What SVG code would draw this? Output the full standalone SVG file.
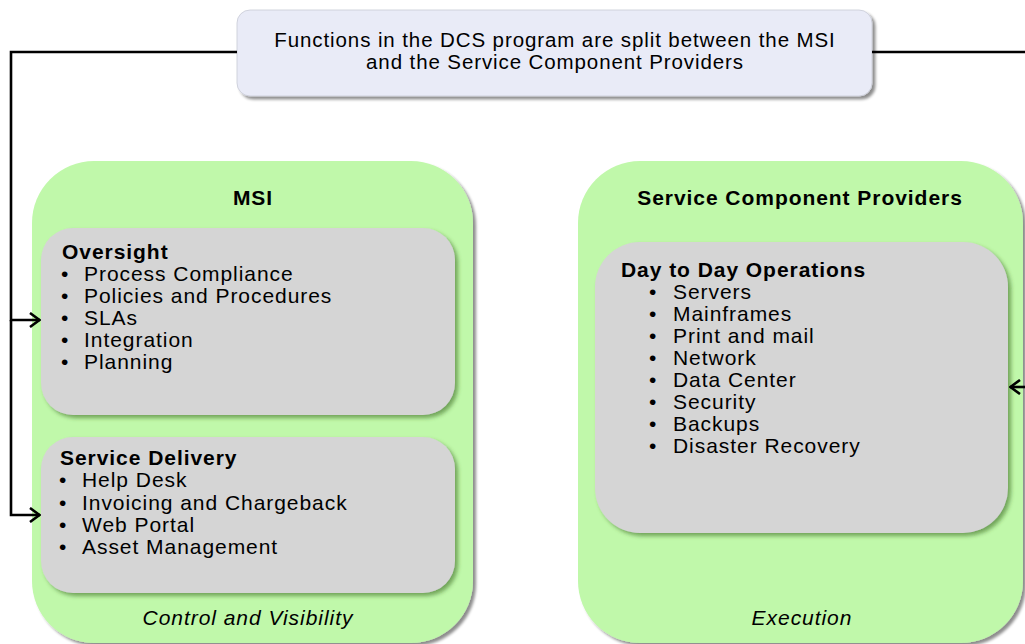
<svg xmlns="http://www.w3.org/2000/svg" width="1025" height="644" viewBox="0 0 1025 644">
<style>
  text { font-family: "Liberation Sans", Arial, sans-serif; fill: #000; font-size: 21px; letter-spacing: 0.95px; }
  .title { font-weight: bold; }
  .foot { font-style: italic; }
  .note { font-size: 20.5px; letter-spacing: 0.9px; }
  .b { letter-spacing: 0; }
  .outer { fill: #c0f8aa; }
  .inner { fill: #d5d5d5; }
  .conn { fill: none; stroke: #000; stroke-width: 2.6; }
</style>
<defs>
  <filter id="sh" x="-10%" y="-10%" width="125%" height="125%">
    <feGaussianBlur in="SourceAlpha" stdDeviation="1.8"/>
    <feOffset dx="3" dy="3" result="b"/>
    <feComponentTransfer><feFuncA type="linear" slope="0.45"/></feComponentTransfer>
    <feMerge><feMergeNode/><feMergeNode in="SourceGraphic"/></feMerge>
  </filter>
  <filter id="shg" x="-10%" y="-10%" width="125%" height="125%">
    <feFlood flood-color="#3a6a20" result="c"/>
    <feComposite in="c" in2="SourceAlpha" operator="in" result="s"/>
    <feGaussianBlur in="s" stdDeviation="2"/>
    <feOffset dx="3" dy="3" result="b"/>
    <feComponentTransfer><feFuncA type="linear" slope="0.6"/></feComponentTransfer>
    <feMerge><feMergeNode/><feMergeNode in="SourceGraphic"/></feMerge>
  </filter>
  <marker id="arr" viewBox="0 0 12 16" refX="11" refY="8" markerWidth="12" markerHeight="16" markerUnits="userSpaceOnUse" orient="auto">
    <path d="M1,1 L10.5,8 L1,15" fill="none" stroke="#000" stroke-width="2.6"/>
  </marker>
</defs>

<g id="note">
  <rect x="237" y="10" width="635" height="86" rx="13" fill="#e9ebf7" stroke="#c8cad6" stroke-width="0.8" filter="url(#sh)"/>
  <text class="note" x="555" y="47" text-anchor="middle">Functions in the DCS program are split between the MSI</text>
  <text class="note" x="555" y="69" text-anchor="middle">and the Service Component Providers</text>
</g>

<g id="msi">
  <rect class="outer" x="32" y="161" width="441" height="482" rx="62" filter="url(#sh)"/>
  <text class="title" x="253" y="205" text-anchor="middle">MSI</text>
  <text class="foot" x="248" y="625" text-anchor="middle">Control and Visibility</text>
</g>

<g id="oversight">
  <rect class="inner" x="41" y="228" width="414" height="187" rx="32" filter="url(#shg)"/>
  <text class="title" x="62" y="259">Oversight</text>
  <text class="b" x="61" y="281">•</text><text x="84" y="281">Process Compliance</text>
  <text class="b" x="61" y="303">•</text><text x="84" y="303">Policies and Procedures</text>
  <text class="b" x="61" y="325">•</text><text x="84" y="325">SLAs</text>
  <text class="b" x="61" y="347">•</text><text x="84" y="347">Integration</text>
  <text class="b" x="61" y="369">•</text><text x="84" y="369">Planning</text>
</g>

<g id="service-delivery">
  <rect class="inner" x="41" y="437" width="414" height="156" rx="32" filter="url(#shg)"/>
  <text class="title" x="60" y="465">Service Delivery</text>
  <text class="b" x="59" y="487">•</text><text x="82" y="487">Help Desk</text>
  <text class="b" x="59" y="510">•</text><text x="82" y="510">Invoicing and Chargeback</text>
  <text class="b" x="59" y="532">•</text><text x="82" y="532">Web Portal</text>
  <text class="b" x="59" y="554">•</text><text x="82" y="554">Asset Management</text>
</g>

<g id="scp">
  <rect class="outer" x="578" y="161" width="445" height="482" rx="62" filter="url(#sh)"/>
  <text class="title" x="800" y="205" text-anchor="middle">Service Component Providers</text>
  <text class="foot" x="802" y="625" text-anchor="middle">Execution</text>
</g>

<g id="day-to-day">
  <rect class="inner" x="595" y="242" width="413" height="291" rx="45" filter="url(#shg)"/>
  <text class="title" x="621" y="277">Day to Day Operations</text>
  <text class="b" x="649" y="299">•</text><text x="673" y="299">Servers</text>
  <text class="b" x="649" y="321">•</text><text x="673" y="321">Mainframes</text>
  <text class="b" x="649" y="343">•</text><text x="673" y="343">Print and mail</text>
  <text class="b" x="649" y="365">•</text><text x="673" y="365">Network</text>
  <text class="b" x="649" y="387">•</text><text x="673" y="387">Data Center</text>
  <text class="b" x="649" y="409">•</text><text x="673" y="409">Security</text>
  <text class="b" x="649" y="431">•</text><text x="673" y="431">Backups</text>
  <text class="b" x="649" y="453">•</text><text x="673" y="453">Disaster Recovery</text>
</g>

<g id="connectors">
  <path class="conn" d="M237,52 H11 V320 H40" marker-end="url(#arr)"/>
  <path class="conn" d="M11,320 V515 H40" marker-end="url(#arr)"/>
  <path class="conn" d="M872,52 H1030"/>
  <path class="conn" d="M1030,387 H1010" marker-end="url(#arr)"/>
</g>
</svg>
